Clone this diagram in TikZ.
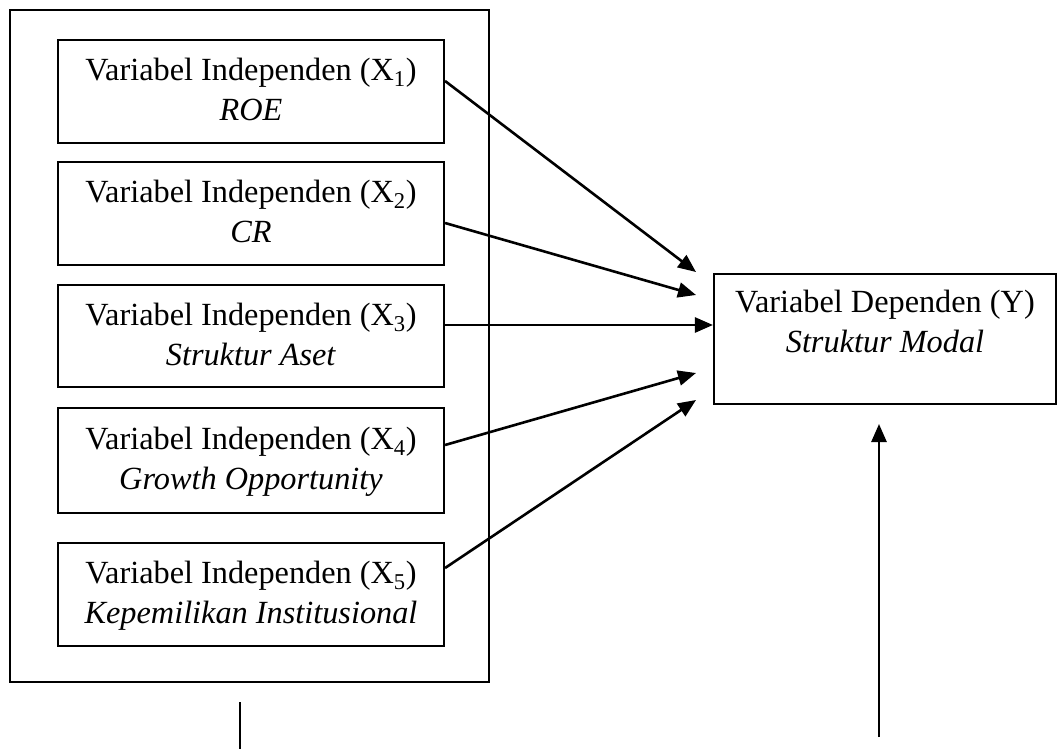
\documentclass[tikz,border=0pt]{standalone}
\usepackage{fontspec}
\setmainfont{Liberation Serif}
\usetikzlibrary{arrows.meta,calc}
\newcommand{\tstrut}{\rule{0pt}{26pt}}
\newcommand{\bstrut}{\rule[-8pt]{0pt}{8pt}}
\begin{document}
\begin{tikzpicture}[x=1pt,y=-1pt,
  varbox/.style={draw,line width=2.1pt,minimum width=386pt,align=center,inner sep=0pt,
    font=\fontsize{32.3}{40}\selectfont},
  conn/.style={line width=2.6pt,-{Triangle[length=18pt,width=15pt]}}]
\useasboundingbox (0,0) rectangle (1058,749);
\node[draw,line width=2.1pt,minimum width=479pt,minimum height=672pt,inner sep=0pt] (outer) at (249.5,346) {};
\node[varbox,minimum height=103pt] (b1) at (251,91.5) {\tstrut Variabel Independen (X\textsubscript{1})\\\textit{ROE}\bstrut};
\node[varbox,minimum height=103pt] (b2) at (251,213.5) {\tstrut Variabel Independen (X\textsubscript{2})\\\textit{CR}\bstrut};
\node[varbox,minimum height=102pt] (b3) at (251,336) {\tstrut Variabel Independen (X\textsubscript{3})\\\textit{Struktur Aset}\bstrut};
\node[varbox,minimum height=105pt] (b4) at (251,460.5) {\tstrut Variabel Independen (X\textsubscript{4})\\\textit{Growth Opportunity}\bstrut};
\node[varbox,minimum height=103pt] (b5) at (251,594.5) {\tstrut Variabel Independen (X\textsubscript{5})\\\textit{Kepemilikan Institusional}\bstrut};
\node[draw,line width=2.1pt,minimum width=342pt,minimum height=130pt,inner sep=0pt] (Y) at (885,339) {};
\node[align=center,anchor=north,inner sep=0pt,font=\fontsize{32.3}{40}\selectfont] (ytext) at ($(Y.north)+(0,17)$) {Variabel Dependen (Y)\\\textit{Struktur Modal}};
\coordinate (t1) at (696,272);
\coordinate (t2) at (696,295);
\coordinate (t4) at (696,373);
\coordinate (t5) at (696,400);
\draw[conn] ($(b1.east)+(0,-10.5)$) -- (t1);
\draw[conn] ($(b2.east)+(0,9.5)$) -- (t2);
\draw[conn] ($(b3.east)+(0,-11)$) -- ($(Y.west)+(0,-14)$);
\draw[conn] ($(b4.east)+(0,-15.5)$) -- (t4);
\draw[conn] ($(b5.east)+(0,-26.5)$) -- (t5);
\coordinate (ls) at (240,702);
\coordinate (le) at (240,749);
\draw[line width=1.6pt] (ls) -- (le);
\coordinate (ub) at (879,737);
\coordinate (ut) at (879,424);
\draw[conn] (ub) -- (ut);
\end{tikzpicture}
\end{document}
